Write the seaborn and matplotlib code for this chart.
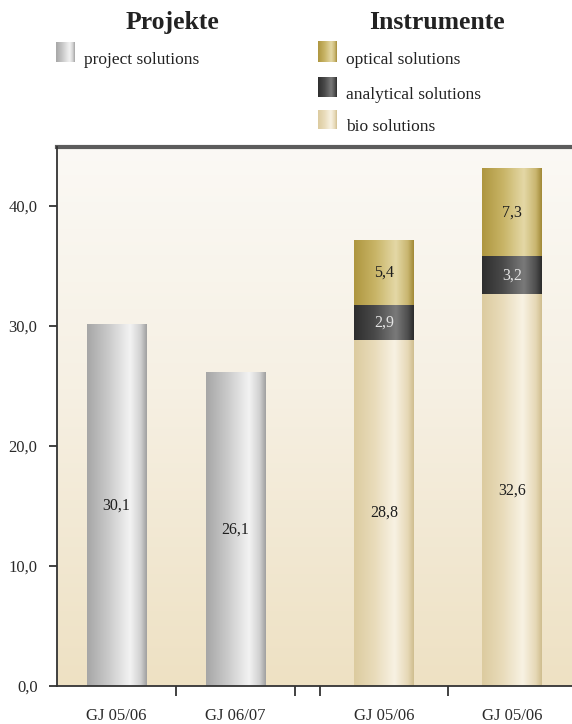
import numpy as np
import pandas as pd
import matplotlib
matplotlib.use("Agg")
import matplotlib.pyplot as plt
import seaborn as sns
from matplotlib.colors import LinearSegmentedColormap

# ---- data -------------------------------------------------------------
periods = ["GJ 05/06", "GJ 06/07", "GJ 05/06", "GJ 05/06"]
project = [30.1, 26.1]          # Projekte: project solutions
bio = [28.8, 32.6]              # Instrumente: bio solutions
analytical = [2.9, 3.2]         # Instrumente: analytical solutions
optical = [5.4, 7.3]            # Instrumente: optical solutions
y_ticks = [0, 10, 20, 30, 40]
y_labels = ["0,0", "10,0", "20,0", "30,0", "40,0"]


def de(v):
    return f"{v:.1f}".replace(".", ",")


# ---- layout (x axis in slot units of the two bar groups) -------------
SLOT_P, SLOT_I, GAP, BAR_W = 119, 128, 25, 60
proj_x = [SLOT_P * (i + 0.5) for i in range(len(project))]
inst0 = SLOT_P * len(project) + GAP
inst_x = [inst0 + SLOT_I * (i + 0.5) for i in range(len(bio))]
separators = [SLOT_P, SLOT_P * 2, inst0, inst0 + SLOT_I]
X_MAX = 515


# ---- gradients --------------------------------------------------------
def cmap(name, stops):
    return LinearSegmentedColormap.from_list(name, stops)


GRAY = cmap("gray_bar", [(0, "#a6a6a6"), (0.35, "#c9c9c9"), (0.72, "#f3f3f3"),
                         (0.9, "#d0d0d0"), (1, "#9f9f9f")])
BIO = cmap("bio", [(0, "#dccb9f"), (0.35, "#e9dcbb"), (0.68, "#f8f2e3"),
                   (0.9, "#e6d8b6"), (1, "#cfbd8e")])
OPT = cmap("opt", [(0, "#ae963f"), (0.35, "#c8b466"), (0.7, "#e4d8a6"),
                   (0.9, "#c9b670"), (1, "#a18936")])
ANA = cmap("ana", [(0, "#2e2e2e"), (0.35, "#4a4a4a"), (0.7, "#7a7a7a"),
                   (0.9, "#4e4e4e"), (1, "#2a2a2a")])
BG = cmap("bg", [(0, "#fbf9f5"), (0.45, "#f6f0e3"), (1, "#eee1c3")])

H_GRAD = np.linspace(0, 1, 256).reshape(1, -1)
V_GRAD = np.linspace(0, 1, 256).reshape(-1, 1)

# ---- figure -----------------------------------------------------------
sns.set_theme(style="white")
plt.rcParams["font.family"] = ["Liberation Serif", "DejaVu Serif"]
plt.rcParams["text.color"] = "#222222"

fig = plt.figure(figsize=(5.72, 7.24), dpi=100)
fig.patch.set_facecolor("white")
ax = fig.add_axes([57 / 572, 38 / 724, 515 / 572, 539 / 724])

# background wash of the plotting area
ax.imshow(V_GRAD, cmap=BG, extent=[0, 1, 0, 1], transform=ax.transAxes,
          aspect="auto", zorder=0, interpolation="bicubic")


def layer(xs, heights, cm, z):
    """Draw one bar layer with seaborn and paint each bar with a gradient."""
    start = len(ax.patches)
    df = pd.DataFrame({"x": xs, "y": heights})
    step = np.diff(xs).min() if len(xs) > 1 else 1
    sns.barplot(data=df, x="x", y="y", native_scale=True, width=BAR_W / step,
                color="#cccccc", errorbar=None, ax=ax, zorder=z)
    for p in ax.patches[start:]:
        p.set_facecolor("none")
        p.set_edgecolor("none")
        x0, y0 = p.get_x(), p.get_y()
        w, h = p.get_width(), p.get_height()
        ax.imshow(H_GRAD, cmap=cm, extent=[x0, x0 + w, y0, y0 + h],
                  aspect="auto", zorder=z, interpolation="bicubic")


# Projekte
layer(proj_x, project, GRAY, 2)
# Instrumente, stacked: optical on analytical on bio
ana_top = [b + a for b, a in zip(bio, analytical)]
opt_top = [t + o for t, o in zip(ana_top, optical)]
layer(inst_x, opt_top, OPT, 3)
layer(inst_x, ana_top, ANA, 4)
layer(inst_x, bio, BIO, 5)

# value labels at segment centres
VAL = dict(ha="center", va="center", fontsize=11.5, zorder=10)
for x, v in zip(proj_x, project):
    ax.text(x, v / 2, de(v), color="#1e1e1e", **VAL)
for x, b, a, o in zip(inst_x, bio, analytical, optical):
    ax.text(x, b / 2, de(b), color="#1e1e1e", **VAL)
    ax.text(x, b + a / 2, de(a), color="#e4e4e4", **VAL)
    ax.text(x, b + a + o / 2, de(o), color="#1e1e1e", **VAL)

# ---- axes styling -----------------------------------------------------
ax.set_xlim(0, X_MAX)
ax.set_ylim(0, 44.9)
ax.set_xlabel("")
ax.set_ylabel("")
ax.set_yticks(y_ticks, labels=y_labels)
ax.set_xticks(proj_x + inst_x, labels=periods)
ax.set_xticks(separators, minor=True)
ax.tick_params(axis="y", which="major", left=True, direction="out", length=6,
               width=1.3, color="#333333", pad=8, labelsize=12,
               labelcolor="#2a2a2a")
ax.tick_params(axis="x", which="major", bottom=True, length=0, pad=16,
               labelsize=12, labelcolor="#2a2a2a")
ax.tick_params(axis="x", which="minor", bottom=True, direction="out",
               length=7, width=1.3, color="#333333")
ax.grid(False)

for side in ("left", "bottom"):
    ax.spines[side].set_visible(True)
    ax.spines[side].set_color("#333333")
    ax.spines[side].set_linewidth(1.3)
    ax.spines[side].set_zorder(20)
ax.spines["top"].set_visible(True)
ax.spines["top"].set_color("#5c5c5c")
ax.spines["top"].set_linewidth(3)
ax.spines["right"].set_visible(False)

# ---- legend block in figure pixels -----------------------------------
lg = fig.add_axes([0, 0, 1, 1], zorder=5)
lg.axis("off")
lg.patch.set_alpha(0)

heading = dict(ha="center", va="baseline", fontsize=18.5, fontweight="bold",
               color="#222222")
lg.text(172, 29, "Projekte", **heading)
lg.text(437, 29, "Instrumente", **heading)

# (swatch left, swatch top, swatch bottom, colours, label)
entries = [
    (56, 42, 62, GRAY, "project solutions"),
    (318, 41, 62, OPT, "optical solutions"),
    (318, 77, 97, ANA, "analytical solutions"),
    (318, 110, 129, BIO, "bio solutions"),
]
for x0, top, bot, cm, label in entries:
    lg.imshow(H_GRAD, cmap=cm, extent=[x0, x0 + 19, bot, top],
              aspect="auto", interpolation="bicubic")
    lg.text(x0 + 28, bot + 2, label, ha="left", va="baseline", fontsize=12.5,
            color="#222222")
lg.set_xlim(0, 572)
lg.set_ylim(724, 0)

fig.savefig("out.png", dpi=100, facecolor="white")
